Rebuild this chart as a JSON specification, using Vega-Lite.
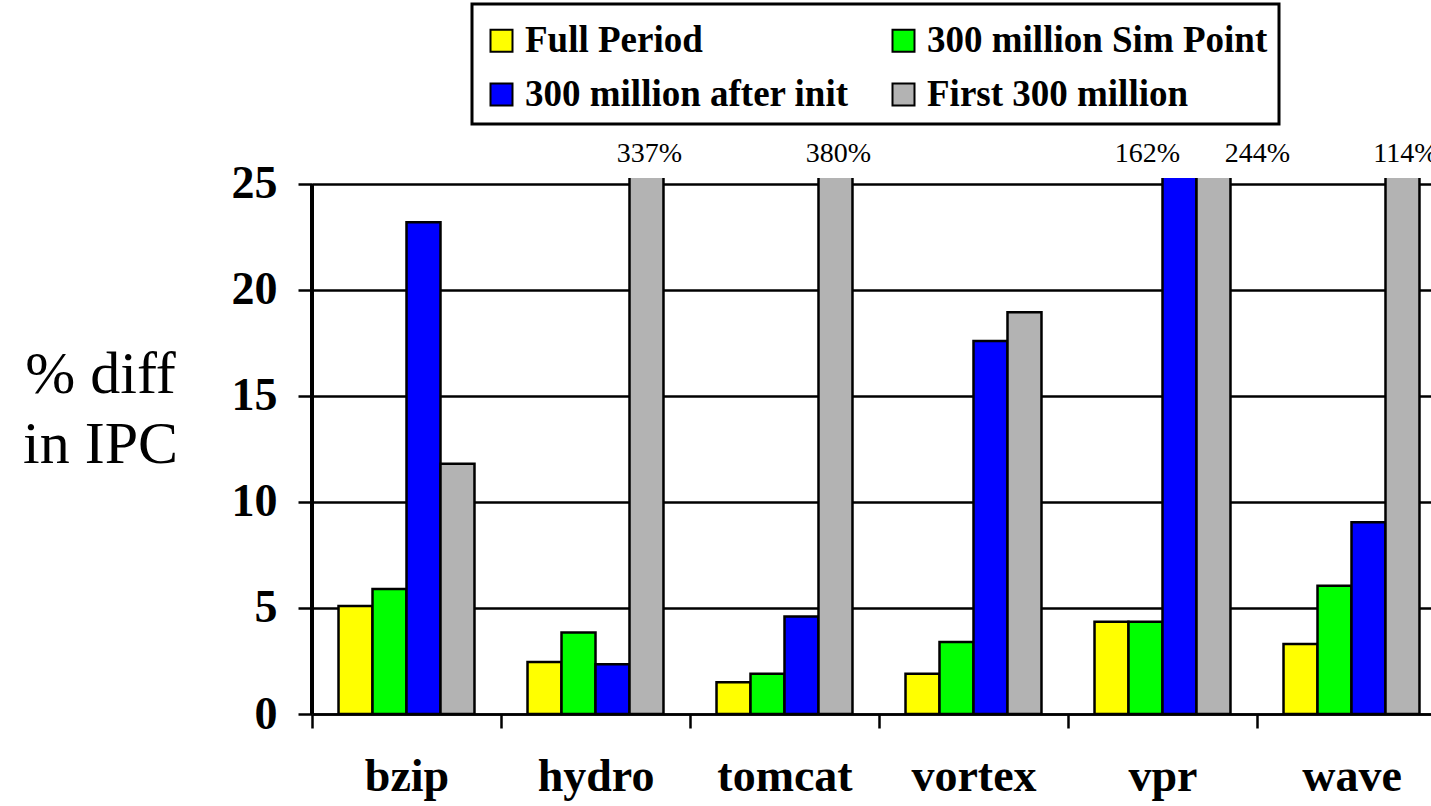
{
  "$schema": "https://vega.github.io/schema/vega-lite/v6.json",
  "autosize": {"type": "none"},
  "padding": {"left": 312, "top": 178, "right": 0, "bottom": 92},
  "width": 1119,
  "height": 536,
  "background": "white",
  "config": {"view": {"stroke": null}, "font": "Liberation Serif"},
  "data": {
    "values": [
      {"bench": "bzip", "series": "Full Period", "value": 5.1},
      {"bench": "bzip", "series": "300 million Sim Point", "value": 5.9},
      {"bench": "bzip", "series": "300 million after init", "value": 23.2},
      {"bench": "bzip", "series": "First 300 million", "value": 11.8},
      {"bench": "hydro", "series": "Full Period", "value": 2.45},
      {"bench": "hydro", "series": "300 million Sim Point", "value": 3.85},
      {"bench": "hydro", "series": "300 million after init", "value": 2.35},
      {"bench": "hydro", "series": "First 300 million", "value": 337},
      {"bench": "tomcat", "series": "Full Period", "value": 1.5},
      {"bench": "tomcat", "series": "300 million Sim Point", "value": 1.9},
      {"bench": "tomcat", "series": "300 million after init", "value": 4.6},
      {"bench": "tomcat", "series": "First 300 million", "value": 380},
      {"bench": "vortex", "series": "Full Period", "value": 1.9},
      {"bench": "vortex", "series": "300 million Sim Point", "value": 3.4},
      {"bench": "vortex", "series": "300 million after init", "value": 17.6},
      {"bench": "vortex", "series": "First 300 million", "value": 18.95},
      {"bench": "vpr", "series": "Full Period", "value": 4.35},
      {"bench": "vpr", "series": "300 million Sim Point", "value": 4.35},
      {"bench": "vpr", "series": "300 million after init", "value": 162},
      {"bench": "vpr", "series": "First 300 million", "value": 244},
      {"bench": "wave", "series": "Full Period", "value": 3.3},
      {"bench": "wave", "series": "300 million Sim Point", "value": 6.05},
      {"bench": "wave", "series": "300 million after init", "value": 9.05},
      {"bench": "wave", "series": "First 300 million", "value": 114}
    ]
  },
  "encoding": {
    "x": {
      "field": "bench",
      "type": "nominal",
      "sort": ["bzip", "hydro", "tomcat", "vortex", "vpr", "wave"],
      "scale": {"paddingInner": 0, "paddingOuter": 0, "range": [0, 1134]},
      "axis": {
        "title": null,
        "tickBand": "extent",
        "tickSize": 14,
        "tickWidth": 2.5,
        "tickColor": "black",
        "domainColor": "black",
        "domainWidth": 2.5,
        "labelFontSize": 46,
        "labelFontWeight": "bold",
        "labelColor": "black",
        "labelPadding": 26,
        "labelAngle": 0,
        "grid": false
      }
    },
    "y": {
      "field": "value",
      "type": "quantitative",
      "scale": {"domain": [0, 25.283], "nice": false},
      "axis": {
        "values": [0, 5, 10, 15, 20, 25],
        "title": ["% diff", "in IPC"],
        "titleAngle": 0,
        "titleX": -212,
        "titleY": 167,
        "titleAlign": "center",
        "titleBaseline": "top",
        "titleFontSize": 60,
        "titleFontWeight": "normal",
        "titleLineHeight": 70,
        "titleColor": "black",
        "labelFontSize": 46,
        "labelFontWeight": "bold",
        "labelColor": "black",
        "labelPadding": 21,
        "tickSize": 14,
        "tickWidth": 2.5,
        "tickColor": "black",
        "domain": false,
        "grid": true,
        "gridColor": "black",
        "gridWidth": 2.5,
        "gridOpacity": 1
      }
    }
  },
  "layer": [
    {
      "mark": {"type": "rule", "color": "black", "strokeWidth": 2.5},
      "encoding": {
        "x": {"datum": "bzip", "type": "nominal", "bandPosition": 0},
        "y": {"datum": 0},
        "y2": {"datum": 25}
      }
    },
    {
      "mark": {"type": "bar", "clip": true, "stroke": "black", "strokeWidth": 2.5},
      "encoding": {
        "xOffset": {
          "field": "series",
          "type": "nominal",
          "sort": ["Full Period", "300 million Sim Point", "300 million after init", "First 300 million"],
          "scale": {"paddingInner": 0, "paddingOuter": 0.78}
        },
        "color": {
          "field": "series",
          "type": "nominal",
          "scale": {
            "domain": ["Full Period", "300 million Sim Point", "300 million after init", "First 300 million"],
            "range": ["#FFFF00", "#00FF00", "#0000FF", "#B3B3B3"]
          },
          "legend": {
            "title": " ",
            "titleFontSize": 5,
            "titlePadding": 2,
            "orient": "none",
            "legendX": 160,
            "legendY": -174,
            "columns": 2,
            "direction": "horizontal",
            "symbolType": "square",
            "symbolSize": 484,
            "symbolStrokeColor": "black",
            "symbolStrokeWidth": 2,
            "symbolOpacity": 1,
            "labelFontSize": 37,
            "labelFontWeight": "bold",
            "labelColor": "black",
            "labelOffset": 5,
            "labelLimit": 600,
            "columnPadding": 36,
            "rowPadding": 16,
            "padding": 11,
            "strokeColor": "black",
            "fillColor": "white",
            "encode": {"legend": {"update": {"strokeWidth": {"value": 3}}}}
          }
        }
      }
    },
    {
      "transform": [
        {"filter": "datum.value > 25 && datum.bench != 'vpr'"},
        {"calculate": "datum.value + '%'", "as": "label"}
      ],
      "mark": {"type": "text", "dy": -22, "dx": 3, "baseline": "alphabetic", "fontSize": 28, "color": "black"},
      "encoding": {
        "xOffset": {"field": "series", "type": "nominal", "sort": ["Full Period", "300 million Sim Point", "300 million after init", "First 300 million"]},
        "y": {"datum": 25},
        "text": {"field": "label"}
      }
    },
    {
      "transform": [
        {"filter": "datum.value > 25 && datum.bench == 'vpr' && datum.series == '300 million after init'"},
        {"calculate": "datum.value + '%'", "as": "label"}
      ],
      "mark": {"type": "text", "dy": -22, "dx": -32, "baseline": "alphabetic", "fontSize": 28, "color": "black"},
      "encoding": {
        "xOffset": {"field": "series", "type": "nominal", "sort": ["Full Period", "300 million Sim Point", "300 million after init", "First 300 million"]},
        "y": {"datum": 25},
        "text": {"field": "label"}
      }
    },
    {
      "transform": [
        {"filter": "datum.value > 25 && datum.bench == 'vpr' && datum.series == 'First 300 million'"},
        {"calculate": "datum.value + '%'", "as": "label"}
      ],
      "mark": {"type": "text", "dy": -22, "dx": 44, "baseline": "alphabetic", "fontSize": 28, "color": "black"},
      "encoding": {
        "xOffset": {"field": "series", "type": "nominal", "sort": ["Full Period", "300 million Sim Point", "300 million after init", "First 300 million"]},
        "y": {"datum": 25},
        "text": {"field": "label"}
      }
    }
  ]
}
